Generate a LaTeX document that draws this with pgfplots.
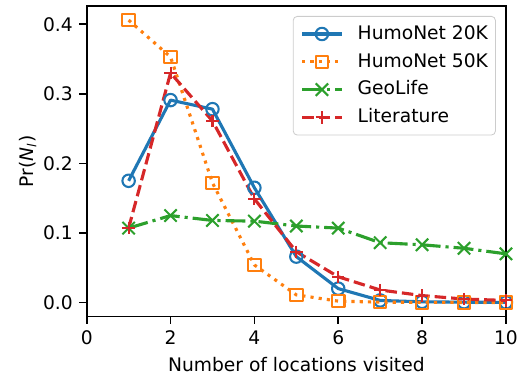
\documentclass[border=0pt]{standalone}
\usepackage{fontspec}
\setmainfont{DejaVu Sans}
\usepackage{pgfplots}
\pgfplotsset{compat=1.18}
\definecolor{cA}{HTML}{1F77B4}
\definecolor{cB}{HTML}{FF7F0E}
\definecolor{cC}{HTML}{2CA02C}
\definecolor{cD}{HTML}{D62728}
\begin{document}
\fontsize{9}{10.8}\selectfont
\begin{tikzpicture}
\useasboundingbox (-0.578in,-0.415in) rectangle (2.922in,2.111in);
\begin{axis}[
  at={(0,0)}, anchor=south west,
  scale only axis, width=2.795in, height=2.071in,
  xmin=0, xmax=10, ymin=-0.0203, ymax=0.4263,
  xtick={0,2,4,6,8,10}, ytick={0,0.1,0.2,0.3,0.4},
  tick align=outside, xtick pos=bottom, ytick pos=left,
  major tick length=3.5pt,
  every tick/.style={black, line width=0.8pt},
  axis line style={line width=0.8pt},
  /pgf/number format/assume math mode=true,
  yticklabel style={/pgf/number format/.cd, fixed, fixed zerofill, precision=1},
  every tick label/.append style={font=\fontsize{9}{10.8}\selectfont},
  label style={font=\fontsize{9}{10.8}\selectfont},
  xlabel={Number of locations visited},
  ylabel={Pr(\textit{N}\textsubscript{\textit{l}})},
  ylabel shift=-3pt,
  legend cell align=left,
  legend style={at={(0.976,0.968)}, anchor=north east,
    draw=black!20, rounded corners=2pt, fill=white, fill opacity=0.8, text opacity=1,
    inner xsep=3.6pt, inner ysep=4pt, row sep=4.4pt, column sep=7pt,
    nodes={inner sep=0pt, text height=7pt, text depth=2pt},
    font=\fontsize{9}{10.8}\selectfont},
  legend image code/.code={\draw[mark repeat=2,mark phase=2] plot coordinates {(0pt,0pt) (9.5pt,0pt) (19pt,0pt)};},
  every axis plot/.append style={line width=1.5pt, line join=round},
]
\addplot[cA, mark=o, mark size=3pt, mark options={solid, line width=1pt, fill=none}]
 coordinates {(1,0.175) (2,0.291) (3,0.278) (4,0.165) (5,0.066) (6,0.020) (7,0.003) (8,0.001) (9,0.0005) (10,0.0002)};
\addlegendentry{HumoNet 20K}
\addplot[cB, dash pattern=on 1.5pt off 2.475pt, mark=square, mark size=3pt, mark options={solid, line width=1pt, fill=none}]
 coordinates {(1,0.406) (2,0.353) (3,0.172) (4,0.054) (5,0.011) (6,0.002) (7,0.0005) (8,0.0002) (9,0.0001) (10,0.0001)};
\addlegendentry{HumoNet 50K}
\addplot[cC, dash pattern=on 9.6pt off 2.4pt on 1.5pt off 2.4pt, mark=x, mark size=4.2pt, mark options={solid, line width=1pt}]
 coordinates {(1,0.107) (2,0.125) (3,0.118) (4,0.117) (5,0.110) (6,0.107) (7,0.086) (8,0.083) (9,0.078) (10,0.070)};
\addlegendentry{GeoLife}
\addplot[cD, dash pattern=on 5.55pt off 2.4pt, mark=+, mark size=3pt, mark options={solid, line width=1pt}]
 coordinates {(1,0.107) (2,0.330) (3,0.261) (4,0.149) (5,0.073) (6,0.037) (7,0.018) (8,0.010) (9,0.005) (10,0.003)};
\addlegendentry{Literature}
\end{axis}
\end{tikzpicture}
\end{document}
